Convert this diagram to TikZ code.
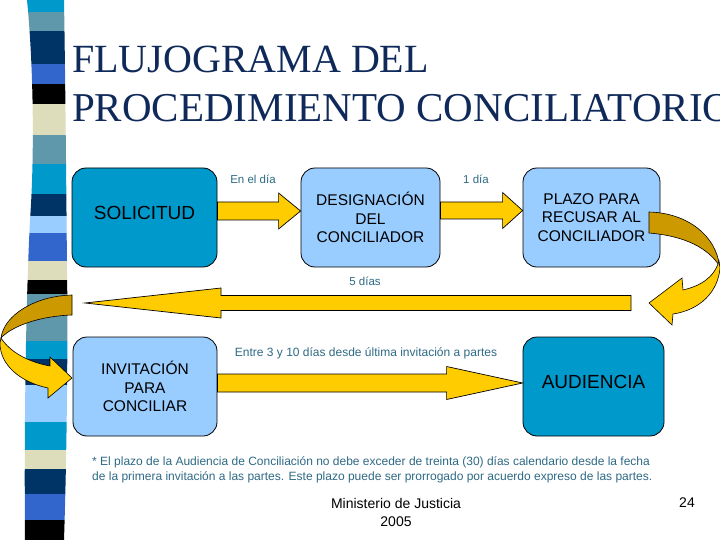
\documentclass[tikz,border=0pt]{standalone}
\usepackage{fontspec}
\setmainfont{Liberation Sans}
\newfontfamily\titlefont{Liberation Serif}
\usetikzlibrary{calc}
\definecolor{cyanbox}{HTML}{0099CC}
\definecolor{lightbox}{HTML}{99CCFF}
\definecolor{arrowyellow}{HTML}{FFCC00}
\definecolor{arrowgold}{HTML}{CC9900}
\definecolor{labelteal}{HTML}{2E6A85}
\definecolor{titlenavy}{HTML}{0F2A5A}
\definecolor{stcyan}{HTML}{0099CC}
\definecolor{stgrey}{HTML}{5F97AB}
\definecolor{stnavy}{HTML}{003366}
\definecolor{stroyal}{HTML}{3366CC}
\definecolor{stbeige}{HTML}{DDDDBB}
\definecolor{stlight}{HTML}{99CCFF}
\tikzset{
  box/.style={draw=black, line width=0.8pt, rounded corners=14pt, align=center,
    inner sep=0pt, minimum height=99pt, text=black},
  darkbox/.style={box, fill=cyanbox, font=\fontsize{19}{22}\selectfont, text depth=10pt},
  lightboxst/.style={box, fill=lightbox, font=\fontsize{15.5}{18.5}\selectfont},
  daylabel/.style={text=labelteal, font=\fontsize{11.5}{13}\selectfont, inner sep=0pt},
  notetext/.style={daylabel, font=\fontsize{12}{14}\selectfont},
  blockarr/.style={fill=arrowyellow, draw=black, line width=0.7pt, line join=miter},
  curvefront/.style={fill=arrowyellow, draw=black, line width=0.6pt},
  curveback/.style={fill=arrowgold, draw=black, line width=0.6pt},
}
\newcommand\blockarrow[5]{%
  \filldraw[blockarr] ($#1+(0,{-(#3)})$) -- ($#2+({-(#5)},{-(#3)})$) -- ($#2+({-(#5)},{-(#4)})$)
    -- #2 -- ($#2+({-(#5)},{#4})$) -- ($#2+({-(#5)},{#3})$) -- ($#1+(0,{#3})$) -- cycle;}
\begin{document}
\begin{tikzpicture}[x=1pt,y=-1pt]
\clip (0,0) rectangle (720,540);
\fill[white] (0,0) rectangle (720,540);
% decorative stripe
\begin{scope}
\clip (27,0) .. controls (33,60) and (35,150) .. (30,220) .. controls (26,300) and (24,420) .. (25,540)
  -- (64,540) .. controls (67,450) and (68,330) .. (67,270) .. controls (66,150) and (65,60) .. (64,0) -- cycle;
\foreach \ya/\yb/\c in {0/12/stcyan,12/31/stgrey,31/64/stnavy,64/84/stroyal,84/104/black,104/135/stbeige,
  135/164/stgrey,164/194/stcyan,194/216/stnavy,216/233/stlight,233/261/stroyal,261/280/stbeige,
  280/294/black,294/341/stgrey,341/359/stcyan,359/385/stnavy,385/422/stlight,422/450/stcyan,
  450/469/stbeige,469/494/stnavy,494/520/stroyal,520/540/black}
  \fill[\c] (0,\ya) rectangle (80,\yb);
\end{scope}
% title
\node[anchor=base west, inner sep=0pt, text=titlenavy, font=\titlefont\fontsize{40}{48}\selectfont] (t1) at (72,73) {FLUJOGRAMA DEL};
\node[anchor=base west, inner sep=0pt, text=titlenavy, font=\titlefont\fontsize{41}{48}\selectfont] (t2) at (72,122) {PROCEDIMIENTO CONCILIATORIO};
% boxes
\node[darkbox, minimum width=145pt] (sol) at (144.5,217.5) {SOLICITUD};
\node[lightboxst, minimum width=139pt] (desig) at (370.5,217.5) {DESIGNACIÓN\\DEL\\CONCILIADOR};
\node[lightboxst, minimum width=137pt] (plazo) at (591.5,217.5) {PLAZO PARA\\RECUSAR AL\\CONCILIADOR};
\node[lightboxst, minimum width=144pt] (invit) at (145,386.5) {INVITACIÓN\\PARA\\CONCILIAR};
\node[darkbox, minimum width=141pt] (aud) at (593.5,386.5) {AUDIENCIA};
% straight block arrows
\coordinate (a1s) at ($(sol.east)+(0,-6.5)$);
\coordinate (a1e) at ($(desig.west)+(0,-6.5)$);
\blockarrow{(a1s)}{(a1e)}{9}{18}{22}
\coordinate (a2s) at ($(desig.east)+(0,-7)$);
\coordinate (a2e) at ($(plazo.west)+(0,-7)$);
\blockarrow{(a2s)}{(a2e)}{8.5}{18}{20}
\coordinate (ls) at (631,303);
\coordinate (le) at (85,303);
\blockarrow{(ls)}{(le)}{7.5}{15}{-136}
\coordinate (b1s) at ($(invit.east)+(0,-3.5)$);
\coordinate (b1e) at ($(aud.west)+(0,-3.5)$);
\blockarrow{(b1s)}{(b1e)}{9}{16.5}{76}
% curved arrow on the right
\filldraw[curveback] (649,212) .. controls (688,213) and (716,236) .. (719.5,266)
  .. controls (708,248) and (685,236) .. (649,233) -- cycle;
\filldraw[curvefront] (719,261) .. controls (714,278) and (700,286) .. (683,290) -- (682,278) -- (649,303)
  -- (672,325) -- (673,314) .. controls (700,310) and (718,292) .. (720,268) -- cycle;
% curved arrow on the left
\filldraw[curveback] (72,295) .. controls (35,296) and (4,315) .. (1,338)
  .. controls (12,326) and (40,316) .. (72,315) -- cycle;
\filldraw[curvefront] (1,338) .. controls (10,352) and (28,362) .. (50,366) -- (50,357) -- (72,378)
  -- (48,398) -- (48,388) .. controls (20,382) and (0,365) .. (0,343) -- cycle;
% labels
\node[daylabel] (l1) at (253,179) {En el día};
\node[daylabel] (l2) at (476,179) {1 día};
\node[daylabel] (l3) at (365,281) {5 días};
\node[notetext] (l4) at (366,353) {Entre 3 y 10 días desde última invitación a partes};
% footnote
\node[notetext, anchor=base west] (f1) at (92,465) {* El plazo de la Audiencia de Conciliación no debe exceder de treinta (30) días calendario desde la fecha};
\node[notetext, anchor=base west] (f2) at (92,480) {de la primera invitación a las partes. Este plazo puede ser prorrogado por acuerdo expreso de las partes.};
% footer
\node[align=center, inner sep=0pt, font=\fontsize{14}{18}\selectfont] (min) at (396,512) {Ministerio de Justicia\\2005};
\node[inner sep=0pt, font=\fontsize{14}{18}\selectfont] (pg) at (687,503) {24};
\end{tikzpicture}
\end{document}
